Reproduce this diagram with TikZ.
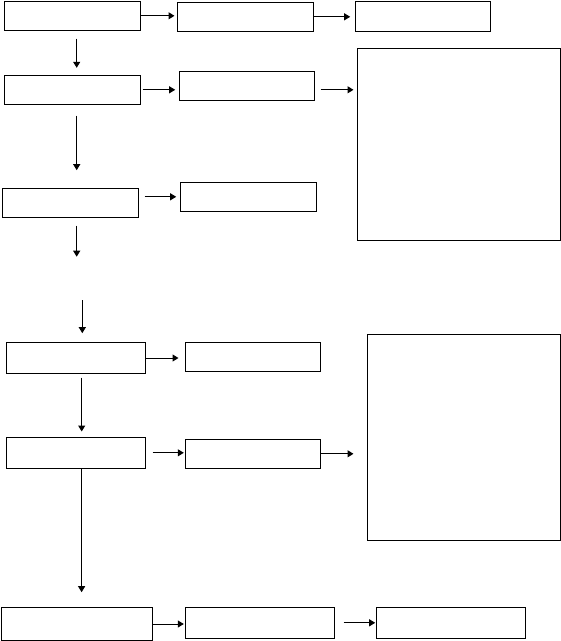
\documentclass[tikz,border=0pt]{standalone}
\usepackage{tikz}
\usetikzlibrary{arrows.meta}

\begin{document}
\begin{tikzpicture}[x=1pt, y=-1pt,
    box/.style={draw, line width=1pt, inner sep=0pt, fill=white},
    arr/.style={line width=1pt, -{Triangle[length=6pt, width=7pt]}}]
      \useasboundingbox (0,0) rectangle (561,641);
      \foreach \name/\cx/\cy/\w/\h in {%
        a1/72.3/15.8/136/29,
        b1/245.3/16.8/136/29,
        c1/422.8/16.3/135/30,
        a2/72.3/89.8/136/29,
        b2/246.8/85.7/135/29.3,
        r1/459/144.3/203.4/192,
        a3/70.5/202.8/135.6/29,
        b3/248.3/196.8/136/29,
        a4/76/358/139.4/31.4,
        b4/252.8/356.8/135/29,
        a5/76/452.8/139.4/31,
        b5/252.8/453.8/135/29,
        r2/464/437.3/193.4/206,
        a6/77.3/624/151/33.4,
        b6/259.9/622.8/149.2/31,
        c6/450.8/622.8/148.8/31
        } {
        \node[box, minimum width=\w pt, minimum height=\h pt] (\name) at (\cx,\cy) {};
      }
      \coordinate (p1) at (76.7,256.7);
      \coordinate (p2) at (82.3,300);
      % top row
      \draw[arr, shorten >=2.3pt] (a1.east) -- (a1.east -| b1.west);
      \draw[arr, shorten >=4.6pt] (b1.east) -- (b1.east -| c1.west);
      \draw[arr, shorten <=7.7pt, shorten >=7pt]
        ([xshift=4.4pt]a1.south) -- ([xshift=4.4pt]a2.north);
      \draw[arr, shorten <=1.7pt, shorten >=3.6pt] (a2.east) -- (a2.east -| b2.west);
      \draw[arr, shorten <=5.7pt, shorten >=3.3pt] (b2.east |- a2) -- (r1.west |- a2);
      \draw[arr, shorten <=10.7pt, shorten >=17.6pt]
        ([xshift=4.4pt]a2.south) -- ([xshift=6.2pt]a3.north);
      \draw[arr, shorten <=5.7pt, shorten >=3.6pt] (a3.east |- b3) -- (b3.west);
      \draw[arr, shorten <=7.7pt] ([xshift=6.2pt]a3.south) -- (p1);
      % bottom part
      \draw[arr, shorten >=8.6pt] (p2) -- ([xshift=6.3pt]a4.north);
      \draw[arr, shorten >=6.3pt] (a4.east) -- (a4.east -| b4.west);
      \draw[arr, shorten <=3.3pt, shorten >=5.3pt]
        ([xshift=5.7pt]a4.south) -- ([xshift=5.7pt]a5.north);
      \draw[arr, shorten <=6.3pt, shorten >=1pt] (a5.east) -- (a5.east -| b5.west);
      \draw[arr, shorten >=13.3pt] (b5.east) -- (b5.east -| r2.west);
      \draw[arr, shorten >=14.6pt]
        ([xshift=5.6pt]a5.south) -- ([xshift=4.3pt]a6.north);
      \draw[arr, shorten >=1pt] (a6.east) -- (a6.east -| b6.west);
      \draw[arr, shorten <=8.5pt, shorten >=0.7pt] (b6.east) -- (b6.east -| c6.west);
    \end{tikzpicture}
\end{document}
